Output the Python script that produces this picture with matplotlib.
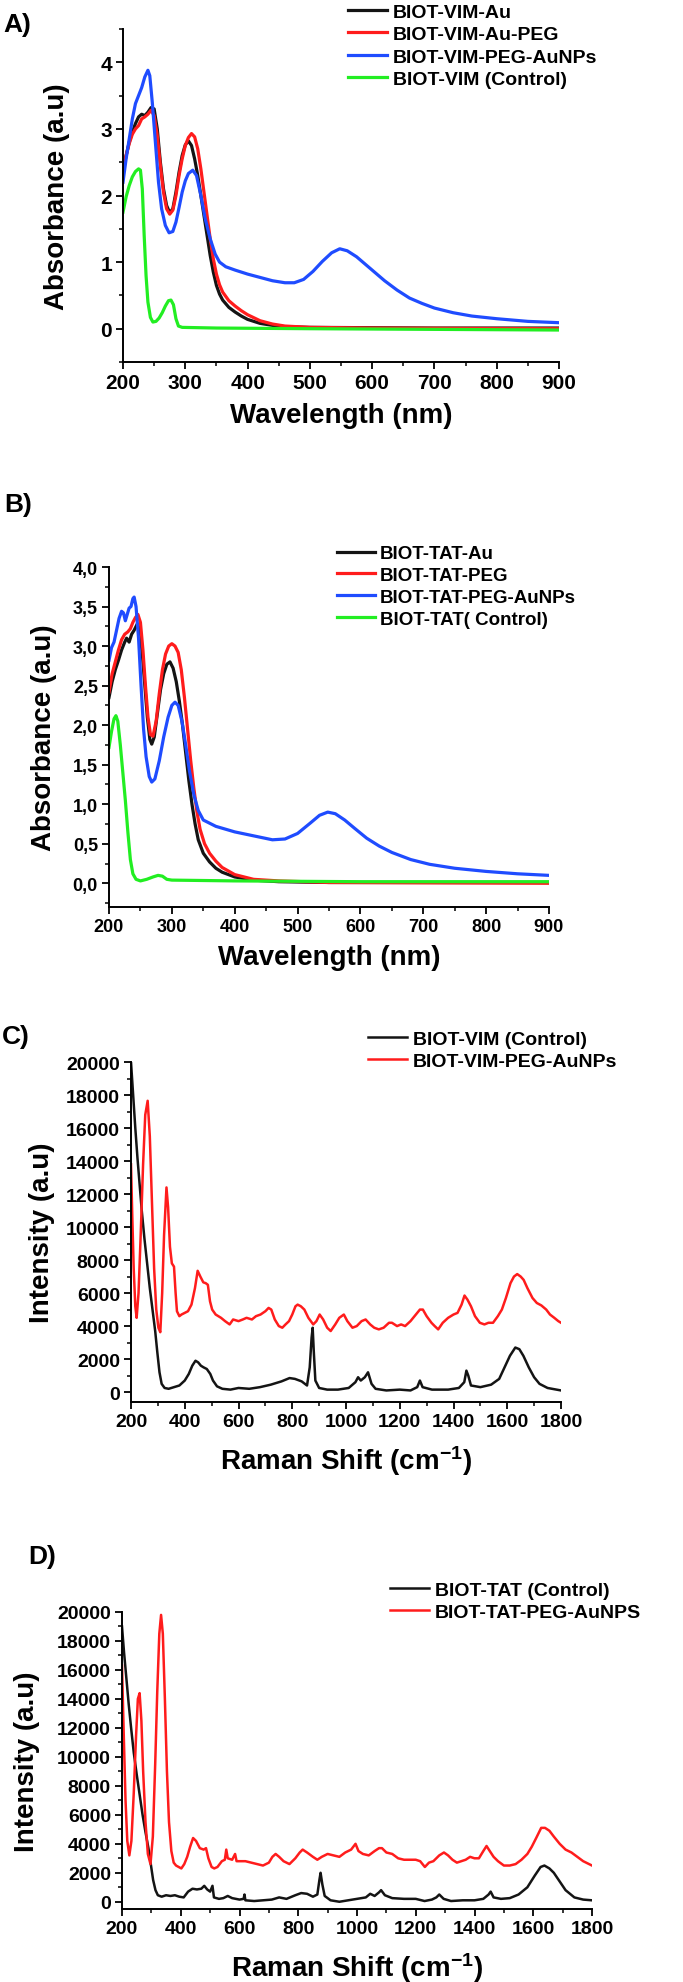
import numpy as np
import matplotlib
matplotlib.use('Agg')
import matplotlib.pyplot as plt
from matplotlib.ticker import MultipleLocator, AutoMinorLocator, FuncFormatter

plt.rcParams['font.family'] = ['Liberation Sans', 'DejaVu Sans']
plt.rcParams['font.weight'] = 'bold'
plt.rcParams['mathtext.fontset'] = 'custom'
plt.rcParams['mathtext.rm'] = 'Liberation Sans:bold'
plt.rcParams['mathtext.bf'] = 'Liberation Sans:bold'
plt.rcParams['mathtext.default'] = 'bf'

W, H = 683, 1983

# ---------------- panel A : UV-vis, BIOT-VIM ----------------
a_au_x = [200, 205, 210, 215, 220, 225, 230, 235, 240, 245, 250, 255, 260, 265, 270, 275, 280, 285, 290, 295,
          300, 305, 310, 315, 320, 325, 330, 335, 340, 345, 350, 355, 360, 370, 380, 390, 400, 420, 440, 460,
          500, 600, 700, 800, 900]
a_au_y = [2.35, 2.6, 2.8, 2.95, 3.08, 3.18, 3.22, 3.2, 3.25, 3.32, 3.3, 3.0, 2.5, 2.1, 1.85, 1.74, 1.8, 2.05, 2.35, 2.6,
          2.76, 2.82, 2.75, 2.55, 2.3, 2.0, 1.7, 1.4, 1.1, 0.85, 0.65, 0.52, 0.43, 0.32, 0.25, 0.19, 0.14, 0.08, 0.05, 0.03,
          0.02, 0.015, 0.01, 0.01, 0.01]
a_peg_x = [200, 205, 210, 215, 220, 225, 230, 235, 240, 245, 250, 255, 260, 265, 270, 275, 280, 285, 290, 295,
           300, 305, 310, 315, 320, 325, 330, 335, 340, 345, 350, 355, 360, 370, 380, 390, 400, 420, 440, 460,
           500, 600, 900]
a_peg_y = [2.4, 2.6, 2.78, 2.92, 3.0, 3.05, 3.15, 3.18, 3.22, 3.28, 3.2, 2.9, 2.45, 2.05, 1.8, 1.72, 1.78, 2.0, 2.3, 2.55,
           2.75, 2.87, 2.93, 2.88, 2.7, 2.4, 2.05, 1.7, 1.35, 1.05, 0.82, 0.66, 0.55, 0.42, 0.34, 0.27, 0.21, 0.12, 0.07, 0.04,
           0.02, 0.01, 0.0]
a_np_x = [200, 205, 210, 215, 220, 225, 230, 235, 240, 243, 247, 252, 257, 262, 268, 274, 280, 285, 290, 295,
          300, 305, 312, 318, 325, 332, 340, 348, 355, 365, 380, 400, 420, 440, 460, 475, 490, 505, 520, 535,
          548, 560, 575, 590, 605, 620, 640, 660, 680, 700, 730, 760, 800, 850, 900]
a_np_y = [2.2, 2.55, 2.85, 3.15, 3.38, 3.5, 3.62, 3.78, 3.88, 3.8, 3.4, 2.8, 2.2, 1.8, 1.55, 1.44, 1.46, 1.6, 1.82, 2.05,
          2.22, 2.33, 2.38, 2.3, 2.0, 1.65, 1.35, 1.12, 1.0, 0.93, 0.88, 0.82, 0.77, 0.72, 0.69, 0.69, 0.74, 0.86, 1.01, 1.14,
          1.2, 1.17, 1.08, 0.96, 0.84, 0.72, 0.58, 0.46, 0.38, 0.31, 0.24, 0.19, 0.15, 0.11, 0.09]
a_ctl_x = [200, 205, 210, 215, 220, 225, 228, 231, 234, 237, 240, 244, 248, 253, 258, 263, 268, 273, 277, 281,
           285, 289, 295, 350, 500, 700, 900]
a_ctl_y = [1.75, 1.98, 2.15, 2.28, 2.36, 2.4, 2.38, 2.1, 1.4, 0.8, 0.4, 0.17, 0.1, 0.11, 0.16, 0.24, 0.34, 0.42, 0.43, 0.36,
           0.15, 0.04, 0.02, 0.01, 0.0, -0.01, -0.02]
a_labels = ['BIOT-VIM-Au', 'BIOT-VIM-Au-PEG', 'BIOT-VIM-PEG-AuNPs', 'BIOT-VIM (Control)']

# ---------------- panel B : UV-vis, BIOT-TAT ----------------
b_au_x = [200, 205, 210, 215, 220, 225, 228, 232, 236, 240, 245, 249, 253, 257, 261, 265, 268, 272, 277, 282,
          287, 292, 297, 302, 307, 312, 317, 322, 327, 332, 337, 342, 350, 360, 370, 380, 400, 430, 470, 550, 900]
b_au_y = [2.35, 2.55, 2.7, 2.82, 2.95, 3.05, 3.1, 3.05, 3.15, 3.2, 3.28, 3.2, 2.9, 2.5, 2.1, 1.82, 1.76, 1.85, 2.15, 2.45,
          2.65, 2.77, 2.8, 2.72, 2.55, 2.3, 2.0, 1.65, 1.3, 1.0, 0.75, 0.55, 0.38, 0.27, 0.19, 0.14, 0.08, 0.04, 0.02, 0.01, 0.01]
b_peg_x = [200, 205, 210, 215, 220, 225, 230, 234, 238, 242, 246, 250, 254, 258, 262, 266, 270, 275, 280, 285,
           290, 295, 300, 305, 310, 315, 320, 325, 330, 335, 340, 345, 352, 360, 370, 380, 400, 430, 470, 550, 900]
b_peg_y = [2.42, 2.65, 2.8, 2.95, 3.08, 3.15, 3.18, 3.22, 3.3, 3.36, 3.4, 3.3, 2.95, 2.5, 2.1, 1.88, 1.86, 2.05, 2.4, 2.7,
           2.9, 3.0, 3.03, 3.0, 2.92, 2.7, 2.35, 1.95, 1.55, 1.2, 0.9, 0.68, 0.5, 0.38, 0.28, 0.2, 0.11, 0.05, 0.03, 0.01, 0.0]
b_np_x = [200, 204, 208, 212, 216, 220, 223, 226, 229, 232, 235, 238, 240, 243, 247, 251, 255, 259, 264, 268,
          273, 280, 287, 294, 300, 305, 310, 316, 322, 328, 335, 342, 350, 370, 400, 430, 460, 480, 500, 520,
          535, 548, 560, 575, 590, 610, 630, 650, 680, 710, 750, 800, 850, 900]
b_np_y = [2.82, 2.98, 3.05, 3.2, 3.35, 3.44, 3.42, 3.32, 3.4, 3.48, 3.5, 3.6, 3.62, 3.5, 3.1, 2.5, 1.95, 1.6, 1.35, 1.28,
          1.32, 1.55, 1.85, 2.1, 2.25, 2.29, 2.25, 2.05, 1.75, 1.42, 1.12, 0.92, 0.8, 0.72, 0.65, 0.6, 0.55, 0.56, 0.63, 0.76,
          0.86, 0.9, 0.88, 0.8, 0.7, 0.57, 0.47, 0.39, 0.3, 0.24, 0.19, 0.15, 0.12, 0.1]
b_ctl_x = [200, 204, 208, 211, 214, 218, 222, 226, 230, 234, 238, 243, 250, 260, 270, 278, 285, 292, 300, 400, 600, 900]
b_ctl_y = [1.72, 1.92, 2.08, 2.12, 2.05, 1.75, 1.4, 1.05, 0.65, 0.3, 0.12, 0.05, 0.03, 0.05, 0.08, 0.1, 0.09, 0.05, 0.04,
           0.03, 0.02, 0.02]
b_labels = ['BIOT-TAT-Au', 'BIOT-TAT-PEG', 'BIOT-TAT-PEG-AuNPs', 'BIOT-TAT( Control)']

# ---------------- panel C : Raman, BIOT-VIM ----------------
c_np_x = [200, 205, 210, 216, 221, 228, 236, 245, 253, 262, 270, 278, 286, 294, 302, 309, 316, 323, 332, 338,
          345, 352, 360, 366, 371, 380, 388, 400, 412, 425, 438, 448, 458, 469, 478, 486, 494, 502, 515, 535,
          550, 567, 580, 600, 616, 630, 650, 665, 682, 700, 712, 722, 735, 750, 763, 775, 788, 800, 812, 820,
          832, 845, 860, 878, 890, 902, 915, 930, 943, 960, 975, 992, 1005, 1024, 1040, 1058, 1073, 1090, 1105, 1122,
          1140, 1160, 1171, 1190, 1205, 1220, 1240, 1260, 1275, 1286, 1300, 1318, 1330, 1343, 1360, 1380, 1400, 1415, 1430, 1441,
          1452, 1465, 1480, 1498, 1515, 1530, 1547, 1565, 1580, 1595, 1612, 1625, 1637, 1650, 1661, 1675, 1694, 1710, 1727, 1745,
          1759, 1775, 1790, 1800]
c_np_y = [13800, 10500, 7500, 5200, 4500, 6000, 9500, 13800, 16800, 17650, 15500, 11500, 7500, 5000, 3900, 3630, 6000, 9500, 12400, 11200,
          8800, 7800, 7600, 6000, 4900, 4600, 4700, 4800, 4900, 5300, 6300, 7350, 7000, 6650, 6600, 6500, 5500, 5000, 4700, 4500,
          4300, 4100, 4400, 4300, 4400, 4500, 4400, 4600, 4700, 4900, 5100, 5000, 4400, 4000, 3900, 4100, 4300, 4700, 5200, 5300,
          5200, 5000, 4500, 4100, 4300, 4700, 4400, 3900, 3700, 4100, 4500, 4700, 4300, 3900, 4000, 4300, 4400, 4100, 3900, 3800,
          3900, 4200, 4200, 4000, 4100, 4000, 4300, 4700, 5000, 5000, 4600, 4200, 4000, 3800, 4200, 4500, 4700, 4800, 5300, 5850,
          5600, 5200, 4600, 4200, 4100, 4200, 4200, 4600, 5000, 5700, 6600, 7000, 7150, 7000, 6800, 6300, 5700, 5400, 5250, 5000,
          4700, 4500, 4300, 4200]
c_ctl_x = [200, 208, 216, 224, 232, 240, 250, 260, 270, 280, 290, 298, 306, 314, 325, 340, 360, 380, 400, 415,
           428, 440, 450, 460, 470, 482, 495, 505, 520, 540, 570, 600, 640, 680, 720, 760, 790, 810, 835, 855,
           865, 872, 876, 880, 886, 900, 930, 970, 1010, 1035, 1045, 1055, 1070, 1082, 1095, 1110, 1150, 1200, 1240, 1265,
           1275, 1285, 1320, 1380, 1420, 1440, 1448, 1455, 1465, 1500, 1540, 1570, 1590, 1610, 1630, 1645, 1660, 1680, 1700, 1720,
           1750, 1800]
c_ctl_y = [20000, 18000, 16000, 14200, 12600, 11000, 9300, 7800, 6300, 5000, 3700, 2400, 1200, 500, 250, 200, 300, 400, 700, 1100,
           1600, 1900, 1800, 1600, 1500, 1400, 1100, 700, 350, 200, 150, 250, 200, 300, 450, 650, 850, 800, 650, 400,
           1500, 3300, 3900, 2500, 700, 250, 150, 150, 250, 600, 900, 700, 900, 1200, 500, 200, 100, 150, 100, 300,
           700, 300, 150, 150, 250, 600, 1300, 1000, 400, 300, 450, 800, 1500, 2200, 2700, 2600, 2200, 1500, 900, 500,
           250, 100]
c_labels = ['BIOT-VIM (Control)', 'BIOT-VIM-PEG-AuNPs']

# ---------------- panel D : Raman, BIOT-TAT ----------------
d_np_x = [200, 206, 212, 218, 225, 232, 240, 248, 254, 260, 266, 272, 280, 288, 297, 305, 313, 320, 327, 333,
          339, 346, 353, 360, 368, 376, 384, 393, 402, 412, 422, 432, 442, 452, 465, 478, 486, 494, 505, 514,
          525, 540, 550, 555, 560, 575, 585, 590, 605, 620, 640, 660, 680, 700, 712, 723, 735, 750, 770, 790,
          805, 815, 830, 850, 865, 880, 900, 920, 940, 960, 980, 995, 1005, 1020, 1040, 1060, 1075, 1085, 1100, 1120,
          1140, 1160, 1180, 1200, 1215, 1231, 1245, 1260, 1280, 1296, 1310, 1325, 1340, 1355, 1370, 1385, 1400, 1415, 1430, 1441,
          1452, 1465, 1480, 1500, 1520, 1540, 1560, 1580, 1595, 1610, 1627, 1640, 1655, 1670, 1690, 1710, 1730, 1750, 1770, 1790,
          1800]
d_np_y = [16300, 11500, 7000, 4200, 3200, 4200, 7500, 11500, 14000, 14400, 12500, 9000, 5500, 3300, 2600, 4500, 9500, 14500, 18500, 19800,
          18500, 14000, 9000, 5500, 3500, 2700, 2500, 2400, 2300, 2600, 3100, 3800, 4400, 4200, 3700, 3600, 3700, 3000, 2400, 2300,
          2400, 2800, 2900, 3600, 3000, 2900, 3300, 2800, 2800, 2800, 2700, 2600, 2500, 2700, 3100, 3300, 3100, 2800, 2600, 3000,
          3400, 3600, 3400, 3100, 2900, 3100, 3300, 3200, 3100, 3400, 3600, 4000, 3500, 3300, 3200, 3500, 3700, 3700, 3400, 3300,
          3000, 2900, 2900, 2900, 2800, 2400, 2700, 2800, 3200, 3400, 3200, 2900, 2700, 2800, 2900, 3100, 3000, 3000, 3500, 3850,
          3500, 3100, 2800, 2500, 2500, 2600, 2900, 3300, 3800, 4400, 5100, 5100, 4900, 4500, 4000, 3600, 3400, 3100, 2800, 2600,
          2500]
d_ctl_x = [200, 207, 215, 223, 231, 240, 250, 260, 270, 280, 290, 298, 306, 314, 322, 335, 350, 365, 380, 395,
           410, 425, 440, 455, 470, 480, 490, 500, 508, 513, 530, 545, 560, 575, 600, 614, 617, 620, 650, 680,
           710, 735, 760, 790, 810, 830, 850, 865, 872, 876, 882, 890, 910, 940, 970, 1000, 1030, 1045, 1060, 1075,
           1082, 1095, 1120, 1160, 1200, 1230, 1255, 1270, 1280, 1295, 1320, 1360, 1400, 1430, 1448, 1455, 1465, 1490, 1520, 1550,
           1580, 1605, 1625, 1638, 1655, 1670, 1690, 1710, 1740, 1770, 1800]
d_ctl_y = [19000, 17200, 15400, 13600, 12000, 10300, 8800, 7400, 6000, 4800, 3700, 2600, 1500, 800, 450, 350, 450, 400, 450, 350,
           300, 700, 900, 850, 900, 1100, 850, 700, 1100, 300, 200, 250, 400, 250, 150, 200, 500, 100, 50, 100,
           150, 300, 200, 450, 600, 550, 350, 500, 1500, 2000, 1200, 400, 100, 0, 100, 200, 300, 550, 400, 650,
           800, 450, 250, 200, 200, 50, 150, 300, 500, 200, 50, 100, 100, 200, 500, 700, 300, 200, 250, 500,
           1000, 1800, 2400, 2500, 2300, 2000, 1400, 800, 300, 150, 100]
d_labels = ['BIOT-TAT (Control)', 'BIOT-TAT-PEG-AuNPS']

BLACK = '#141414'
RED = '#ff1c1c'
BLUE = '#1f4cff'
GREEN = '#22ee22'


def px_axes(left, top, right, bottom):
    return fig.add_axes([left / W, 1 - bottom / H, (right - left) / W, (bottom - top) / H])


def style(ax, tick_size):
    for s in ['top', 'right']:
        ax.spines[s].set_visible(False)
    for s in ['left', 'bottom']:
        ax.spines[s].set_linewidth(1.4)
    ax.tick_params(which='major', direction='out', length=5, width=1.3, labelsize=tick_size, pad=3)
    ax.tick_params(which='minor', direction='out', length=3, width=1.1)
    ax.xaxis.set_minor_locator(AutoMinorLocator(2))
    ax.yaxis.set_minor_locator(AutoMinorLocator(2))
    for t in ax.get_xticklabels() + ax.get_yticklabels():
        t.set_fontweight('bold')


def legend(ax, x, y, fs, spacing):
    ax.legend(loc='upper left', bbox_to_anchor=(x / W, 1 - y / H), bbox_transform=fig.transFigure,
              frameon=False, handlelength=2.0, handletextpad=0.3, borderpad=0,
              borderaxespad=0, labelspacing=spacing, prop={'weight': 'bold', 'size': fs})


def ylabel_at(ax, text, right_px, left_px, width_px):
    # right edge of the rotated label sits at right_px
    ax.set_ylabel(text, fontsize=20, fontweight='bold')
    ax.yaxis.set_label_coords((right_px - left_px) / width_px, 0.5)


fig = plt.figure(figsize=(W / 100, H / 100), dpi=100)

# ---- A
ax = px_axes(123, 30, 559, 363)
ax.plot(a_au_x, a_au_y, color=BLACK, lw=2.3, label=a_labels[0])
ax.plot(a_peg_x, a_peg_y, color=RED, lw=2.3, label=a_labels[1])
ax.plot(a_np_x, a_np_y, color=BLUE, lw=2.3, label=a_labels[2])
ax.plot(a_ctl_x, a_ctl_y, color=GREEN, lw=2.3, label=a_labels[3])
ax.set_xlim(200, 900)
ax.set_ylim(-0.5, 4.5)
ax.xaxis.set_major_locator(MultipleLocator(100))
ax.yaxis.set_major_locator(MultipleLocator(1))
style(ax, 15)
ax.set_xlabel('Wavelength (nm)', fontsize=20, fontweight='bold')
ax.xaxis.set_label_coords(0.5, -0.12)
ylabel_at(ax, 'Absorbance (a.u)', 70, 123, 436)
legend(ax, 348, 4, 14, 0.25)
fig.text(3 / W, 1 - 25 / H, 'A)', fontsize=19, fontweight='bold', va='center', ha='left')

# ---- B
ax = px_axes(109, 568, 549, 908)
ax.plot(b_au_x, b_au_y, color=BLACK, lw=2.3, label=b_labels[0])
ax.plot(b_peg_x, b_peg_y, color=RED, lw=2.3, label=b_labels[1])
ax.plot(b_np_x, b_np_y, color=BLUE, lw=2.3, label=b_labels[2])
ax.plot(b_ctl_x, b_ctl_y, color=GREEN, lw=2.3, label=b_labels[3])
ax.set_xlim(200, 900)
ax.set_ylim(-0.3, 4.0)
ax.xaxis.set_major_locator(MultipleLocator(100))
ax.yaxis.set_major_locator(MultipleLocator(0.5))
ax.yaxis.set_major_formatter(FuncFormatter(lambda v, p: ('%.1f' % v).replace('.', ',')))
style(ax, 13)
ax.set_xlabel('Wavelength (nm)', fontsize=20, fontweight='bold')
ax.xaxis.set_label_coords(0.5, -0.11)
ylabel_at(ax, 'Absorbance (a.u)', 57, 109, 440)
legend(ax, 337, 546, 13.5, 0.25)
fig.text(4 / W, 1 - 505 / H, 'B)', fontsize=19, fontweight='bold', va='center', ha='left')

# ---- C
ax = px_axes(131, 1063, 561, 1403)
ax.plot(c_ctl_x, c_ctl_y, color=BLACK, lw=1.8, label=c_labels[0])
ax.plot(c_np_x, c_np_y, color=RED, lw=1.8, label=c_labels[1])
ax.set_xlim(200, 1800)
ax.set_ylim(-600, 20000)
ax.xaxis.set_major_locator(MultipleLocator(200))
ax.yaxis.set_major_locator(MultipleLocator(2000))
style(ax, 14)
ax.set_xlabel('Raman Shift (cm$^{-1}$)', fontsize=20, fontweight='bold')
ax.xaxis.set_label_coords(0.5, -0.12)
ylabel_at(ax, 'Intensity (a.u)', 55, 131, 430)
legend(ax, 368, 1031, 14, 0.25)
fig.text(2 / W, 1 - 1037 / H, 'C)', fontsize=19, fontweight='bold', va='center', ha='left')

# ---- D
ax = px_axes(122, 1613, 592, 1910)
ax.plot(d_ctl_x, d_ctl_y, color=BLACK, lw=1.8, label=d_labels[0])
ax.plot(d_np_x, d_np_y, color=RED, lw=1.8, label=d_labels[1])
ax.set_xlim(200, 1800)
ax.set_ylim(-500, 20000)
ax.xaxis.set_major_locator(MultipleLocator(200))
ax.yaxis.set_major_locator(MultipleLocator(2000))
style(ax, 14)
ax.set_xlabel('Raman Shift (cm$^{-1}$)', fontsize=20, fontweight='bold')
ax.xaxis.set_label_coords(0.5, -0.14)
ylabel_at(ax, 'Intensity (a.u)', 40, 122, 470)
legend(ax, 390, 1582, 14, 0.25)
fig.text(28 / W, 1 - 1557 / H, 'D)', fontsize=19, fontweight='bold', va='center', ha='left')

fig.savefig('out.png', dpi=100)
